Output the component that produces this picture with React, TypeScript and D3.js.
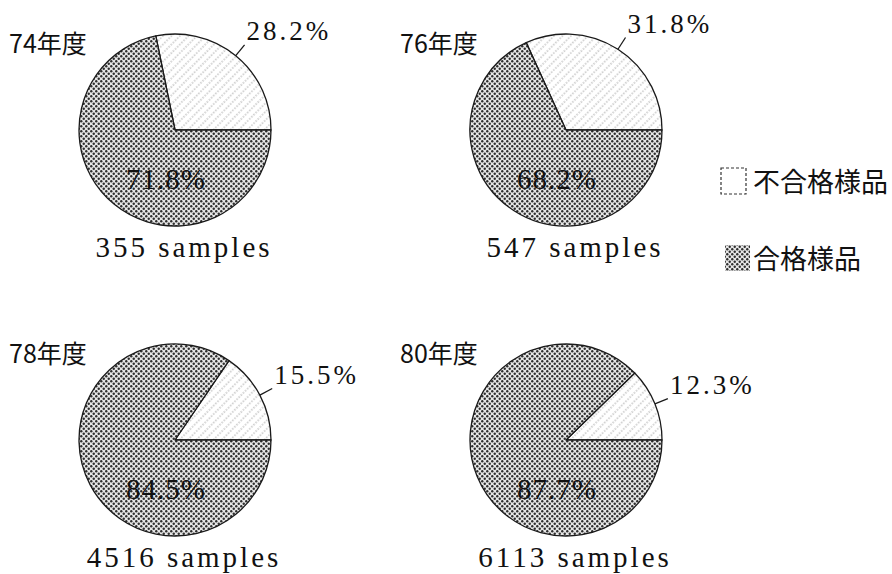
import React, { useEffect, useRef } from 'react';
import * as d3 from 'd3';

// 検査年度ごとの合否比率
const years = ['74年度', '76年度', '78年度', '80年度'];
const sampleCounts = [355, 547, 4516, 6113];
const failRates = [28.2, 31.8, 15.5, 12.3];
const passRates = [71.8, 68.2, 84.5, 87.7];
const legendLabels = ['不合格様品', '合格様品'];

const W = 892;
const H = 574;
const R = 96;
const SERIF = '"Liberation Serif", "DejaVu Serif", serif';
const CJK = '"Noto Sans CJK JP", "Noto Sans", sans-serif';

const App: React.FC = () => {
  const svgRef = useRef<SVGSVGElement>(null);

  useEffect(() => {
    if (!svgRef.current) return;
    const svg = d3.select(svgRef.current);
    svg.selectAll('*').remove();

    const defs = svg.append('defs');

    // halftone dots for the passing share
    const dots = defs.append('pattern')
      .attr('id', 'dots')
      .attr('patternUnits', 'userSpaceOnUse')
      .attr('width', 5)
      .attr('height', 5);
    dots.append('rect').attr('width', 5).attr('height', 5).attr('fill', '#e6e6e6');
    dots.append('circle').attr('cx', 1.25).attr('cy', 1.25).attr('r', 1.2).attr('fill', '#2e2e2e');
    dots.append('circle').attr('cx', 3.75).attr('cy', 3.75).attr('r', 1.2).attr('fill', '#2e2e2e');

    // light dotted hatching for the failing share
    const hatch = defs.append('pattern')
      .attr('id', 'hatch')
      .attr('patternUnits', 'userSpaceOnUse')
      .attr('width', 6)
      .attr('height', 6)
      .attr('patternTransform', 'rotate(-45)');
    hatch.append('rect').attr('width', 6).attr('height', 6).attr('fill', '#fff');
    hatch.append('line')
      .attr('x1', 0).attr('y1', 3).attr('x2', 6).attr('y2', 3)
      .attr('stroke', '#8a8a8a')
      .attr('stroke-width', 0.8)
      .attr('stroke-dasharray', '1.5,1.5');

    const cols = d3.scalePoint<number>().domain([0, 1]).range([175, 566]);
    const rows = d3.scalePoint<number>().domain([0, 1]).range([130, 440]);

    const arc = d3.arc<d3.PieArcDatum<number>>().innerRadius(0).outerRadius(R);

    years.forEach((year, i) => {
      const cx = cols(i % 2)!;
      const cy = rows(Math.floor(i / 2))!;
      const start = Math.PI / 2 - (2 * Math.PI * failRates[i]) / 100;
      const pie = d3.pie<number>()
        .sort(null)
        .value(d => d)
        .startAngle(start)
        .endAngle(start + 2 * Math.PI);
      const slices = pie([failRates[i], passRates[i]]);

      const g = svg.append('g').attr('transform', `translate(${cx},${cy})`);

      g.selectAll('path')
        .data(slices)
        .enter()
        .append('path')
        .attr('d', arc)
        .attr('fill', (_, j) => (j === 0 ? 'url(#hatch)' : 'url(#dots)'))
        .attr('stroke', '#1a1a1a')
        .attr('stroke-width', 1.3)
        .attr('stroke-linejoin', 'round');

      // leader line + failing share label
      const mid = (slices[0].startAngle + slices[0].endAngle) / 2;
      const p0 = [Math.sin(mid) * R, -Math.cos(mid) * R];
      const p1 = [Math.sin(mid) * (R + 14), -Math.cos(mid) * (R + 14)];
      g.append('line')
        .attr('x1', p0[0]).attr('y1', p0[1])
        .attr('x2', p1[0]).attr('y2', p1[1])
        .attr('stroke', '#1a1a1a')
        .attr('stroke-width', 1.3);
      g.append('text')
        .attr('x', p1[0] + 2)
        .attr('y', p1[1] - 5)
        .attr('font-family', SERIF)
        .attr('font-size', 27)
        .attr('letter-spacing', 3)
        .attr('fill', '#111')
        .text(`${failRates[i]}%`);

      // passing share inside the slice
      g.append('text')
        .attr('x', -9)
        .attr('y', 59)
        .attr('text-anchor', 'middle')
        .attr('font-family', SERIF)
        .attr('font-size', 29)
        .attr('letter-spacing', 1)
        .attr('fill', '#111')
        .text(`${passRates[i]}%`);

      g.append('text')
        .attr('x', -166)
        .attr('y', -77)
        .attr('font-family', CJK)
        .attr('font-size', 25)
        .attr('font-weight', 400)
        .attr('fill', '#111')
        .text(year);

      g.append('text')
        .attr('x', 9)
        .attr('y', 127)
        .attr('text-anchor', 'middle')
        .attr('font-family', SERIF)
        .attr('font-size', 29)
        .attr('letter-spacing', 3)
        .attr('fill', '#111')
        .text(`${sampleCounts[i]} samples`);
    });

    // legend
    const legend = svg.append('g').attr('transform', 'translate(721,168)');
    legendLabels.forEach((label, i) => {
      const y = i * 77;
      legend.append('rect')
        .attr('x', i === 0 ? 0 : 4)
        .attr('y', y)
        .attr('width', 25)
        .attr('height', 26)
        .attr('fill', i === 0 ? '#fff' : 'url(#dots)')
        .attr('stroke', i === 0 ? '#333' : 'none')
        .attr('stroke-width', 1.2)
        .attr('stroke-dasharray', i === 0 ? '3,2' : null);
      legend.append('text')
        .attr('x', 32)
        .attr('y', y + 24)
        .attr('font-family', CJK)
        .attr('font-size', 27)
        .attr('font-weight', 400)
        .attr('fill', '#111')
        .text(label);
    });
  }, []);

  return (
    <svg
      ref={svgRef}
      width={W}
      height={H}
      style={{ position: 'absolute', left: 0, top: 0, background: '#fff' }}
    />
  );
};

export default App;
